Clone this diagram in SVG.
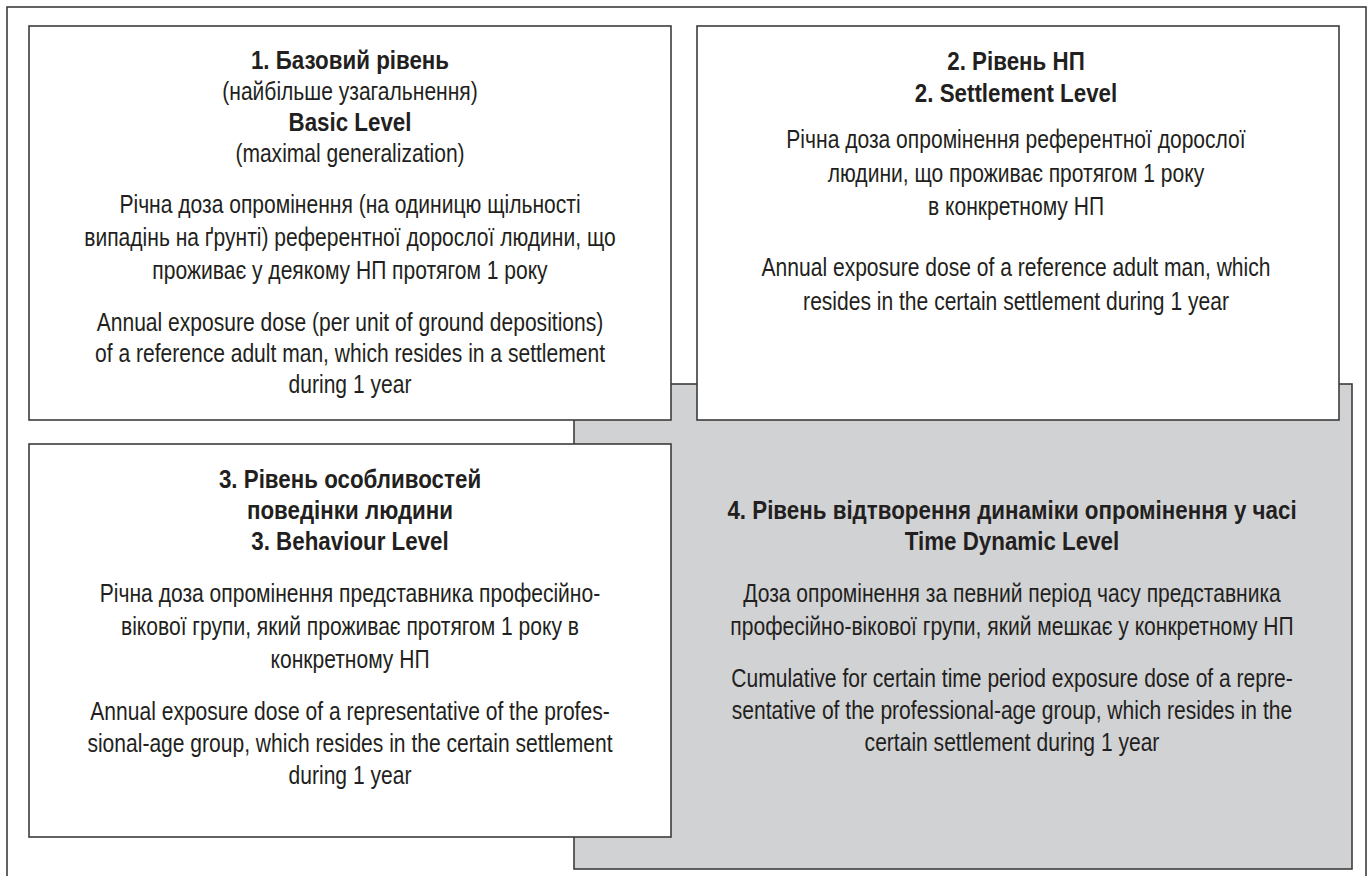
<svg xmlns="http://www.w3.org/2000/svg" width="1369" height="876" viewBox="0 0 1369 876">
<style>
.frame{fill:#ffffff;stroke:#3c3c3c;stroke-width:1.6}
.box{fill:#ffffff;stroke:#3c3c3c;stroke-width:1.6}
.gray{fill:#d1d2d4;stroke:#3c3c3c;stroke-width:1.6}
text{font-family:"Liberation Sans",Arial,sans-serif;font-size:26px;fill:#231f20;text-anchor:middle}
.b{font-weight:bold}
</style>
<rect width="1369" height="876" fill="#ffffff"/>
<rect class="frame" x="7" y="7" width="1359" height="880"/>
<g id="connectors"></g>
<g id="node4">
<rect class="gray" x="574" y="384" width="778" height="485"/>
<g transform="translate(1012 0) scale(0.86 1)">
<text class="b" x="0" y="519">4. Рівень відтворення динаміки опромінення у часі</text>
<text class="b" x="0" y="550">Time Dynamic Level</text>
</g>
<g transform="translate(1012 0) scale(0.81 1)">
<text x="0" y="602">Доза опромінення за певний період часу представника</text>
<text x="0" y="635">професійно-вікової групи, який мешкає у конкретному НП</text>
<text x="0" y="687">Cumulative for certain time period exposure dose of a repre-</text>
<text x="0" y="719">sentative of the professional-age group, which resides in the</text>
<text x="0" y="751">certain settlement during 1 year</text>
</g>
</g>
<g id="node1">
<rect class="box" x="29" y="26" width="642" height="394"/>
<g transform="translate(350 0) scale(0.86 1)">
<text class="b" x="0" y="69">1. Базовий рівень</text>
<text class="b" x="0" y="131">Basic Level</text>
</g>
<g transform="translate(350 0) scale(0.81 1)">
<text x="0" y="100">(найбільше узагальнення)</text>
<text x="0" y="162">(maximal generalization)</text>
<text x="0" y="213">Річна доза опромінення (на одиницю щільності</text>
<text x="0" y="246">випадінь на ґрунті) референтної дорослої людини, що</text>
<text x="0" y="279">проживає у деякому НП протягом 1 року</text>
<text x="0" y="331">Annual exposure dose (per unit of ground depositions)</text>
<text x="0" y="362">of a reference adult man, which resides in a settlement</text>
<text x="0" y="393">during 1 year</text>
</g>
</g>
<g id="node2">
<rect class="box" x="697" y="26" width="642" height="394"/>
<g transform="translate(1016 0) scale(0.86 1)">
<text class="b" x="0" y="70">2. Рівень НП</text>
<text class="b" x="0" y="102">2. Settlement Level</text>
</g>
<g transform="translate(1016 0) scale(0.81 1)">
<text x="0" y="148">Річна доза опромінення референтної дорослої</text>
<text x="0" y="182">людини, що проживає протягом 1 року</text>
<text x="0" y="215">в конкретному НП</text>
<text x="0" y="276">Annual exposure dose of a reference adult man, which</text>
<text x="0" y="310">resides in the certain settlement during 1 year</text>
</g>
</g>
<g id="node3">
<rect class="box" x="29" y="444" width="642" height="393"/>
<g transform="translate(350 0) scale(0.86 1)">
<text class="b" x="0" y="488">3. Рівень особливостей</text>
<text class="b" x="0" y="519">поведінки людини</text>
<text class="b" x="0" y="550">3. Behaviour Level</text>
</g>
<g transform="translate(350 0) scale(0.81 1)">
<text x="0" y="602">Річна доза опромінення представника професійно-</text>
<text x="0" y="635">вікової групи, який проживає протягом 1 року в</text>
<text x="0" y="668">конкретному НП</text>
<text x="0" y="720">Annual exposure dose of a representative of the profes-</text>
<text x="0" y="752">sional-age group, which resides in the certain settlement</text>
<text x="0" y="784">during 1 year</text>
</g>
</g>
</svg>
